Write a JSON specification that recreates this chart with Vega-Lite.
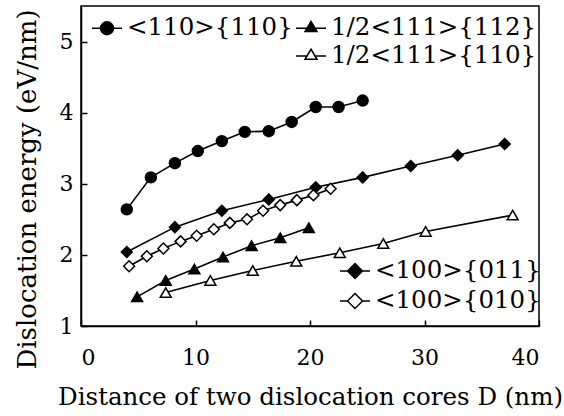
{
  "$schema": "https://vega.github.io/schema/vega-lite/v6.json",
  "width": 458,
  "height": 320,
  "autosize": {"type": "none"},
  "padding": {"left": 81, "top": 6, "right": 25, "bottom": 90},
  "background": "white",
  "config": {
    "view": {"stroke": "black", "strokeWidth": 1.5},
    "axis": {
      "grid": false,
      "domainColor": "black",
      "domainWidth": 1.5,
      "tickColor": "black",
      "tickWidth": 1.5,
      "tickSize": -6,
      "labelColor": "black",
      "labelFont": "DejaVu Serif",
      "labelFontSize": 22,
      "titleFont": "DejaVu Serif",
      "titleFontSize": 24.5,
      "titleFontWeight": "normal",
      "titleColor": "black"
    },
    "legend": {
      "labelFont": "DejaVu Serif",
      "labelFontSize": 24.5,
      "labelColor": "black",
      "labelLimit": 400,
      "symbolSize": 900,
      "symbolOpacity": 1,
      "symbolStrokeWidth": 1.5,
      "labelOffset": 4
    }
  },
  "data": {
    "values": [
      {"s": "<110>{110}", "x": 4.0, "y": 2.64},
      {"s": "<110>{110}", "x": 6.1, "y": 3.09},
      {"s": "<110>{110}", "x": 8.2, "y": 3.29},
      {"s": "<110>{110}", "x": 10.2, "y": 3.46},
      {"s": "<110>{110}", "x": 12.3, "y": 3.6},
      {"s": "<110>{110}", "x": 14.3, "y": 3.73},
      {"s": "<110>{110}", "x": 16.4, "y": 3.74},
      {"s": "<110>{110}", "x": 18.4, "y": 3.87},
      {"s": "<110>{110}", "x": 20.5, "y": 4.08},
      {"s": "<110>{110}", "x": 22.5, "y": 4.08},
      {"s": "<110>{110}", "x": 24.6, "y": 4.17},
      {"s": "1/2<111>{112}", "x": 4.9, "y": 1.41},
      {"s": "1/2<111>{112}", "x": 7.4, "y": 1.64},
      {"s": "1/2<111>{112}", "x": 9.9, "y": 1.8},
      {"s": "1/2<111>{112}", "x": 12.4, "y": 1.97},
      {"s": "1/2<111>{112}", "x": 14.9, "y": 2.13},
      {"s": "1/2<111>{112}", "x": 17.4, "y": 2.24},
      {"s": "1/2<111>{112}", "x": 19.9, "y": 2.38},
      {"s": "1/2<111>{110}", "x": 7.4, "y": 1.47},
      {"s": "1/2<111>{110}", "x": 11.3, "y": 1.64},
      {"s": "1/2<111>{110}", "x": 15.0, "y": 1.78},
      {"s": "1/2<111>{110}", "x": 18.8, "y": 1.91},
      {"s": "1/2<111>{110}", "x": 22.6, "y": 2.03},
      {"s": "1/2<111>{110}", "x": 26.4, "y": 2.16},
      {"s": "1/2<111>{110}", "x": 30.1, "y": 2.33},
      {"s": "1/2<111>{110}", "x": 37.7, "y": 2.56},
      {"s": "<100>{011}", "x": 4.0, "y": 2.04},
      {"s": "<100>{011}", "x": 8.2, "y": 2.39},
      {"s": "<100>{011}", "x": 12.3, "y": 2.62},
      {"s": "<100>{011}", "x": 16.4, "y": 2.78},
      {"s": "<100>{011}", "x": 20.5, "y": 2.95},
      {"s": "<100>{011}", "x": 24.6, "y": 3.09},
      {"s": "<100>{011}", "x": 28.8, "y": 3.25},
      {"s": "<100>{011}", "x": 32.9, "y": 3.4},
      {"s": "<100>{011}", "x": 37.0, "y": 3.56},
      {"s": "<100>{010}", "x": 4.2, "y": 1.84},
      {"s": "<100>{010}", "x": 5.75, "y": 1.98},
      {"s": "<100>{010}", "x": 7.2, "y": 2.09},
      {"s": "<100>{010}", "x": 8.7, "y": 2.19},
      {"s": "<100>{010}", "x": 10.1, "y": 2.27},
      {"s": "<100>{010}", "x": 11.6, "y": 2.36},
      {"s": "<100>{010}", "x": 13.0, "y": 2.45},
      {"s": "<100>{010}", "x": 14.5, "y": 2.5},
      {"s": "<100>{010}", "x": 15.9, "y": 2.62},
      {"s": "<100>{010}", "x": 17.4, "y": 2.7},
      {"s": "<100>{010}", "x": 18.85, "y": 2.77},
      {"s": "<100>{010}", "x": 20.3, "y": 2.84},
      {"s": "<100>{010}", "x": 21.8, "y": 2.93}
    ]
  },
  "encoding": {
    "x": {
      "field": "x", "type": "quantitative",
      "scale": {"domain": [0, 40], "nice": false, "zero": false},
      "axis": {
        "title": "Distance of two dislocation cores D (nm)",
        "values": [0, 10, 20, 30, 40],
        "labelFont": "DejaVu Serif",
        "labelFontSize": 22,
        "labelPadding": 27,
        "titleY": 78,
        "titleBaseline": "alphabetic"
      }
    },
    "y": {
      "field": "y", "type": "quantitative",
      "scale": {"domain": [1, 5.5], "nice": false, "zero": false},
      "axis": {
        "title": "Dislocation energy (eV/nm)",
        "titleFontSize": 26,
        "values": [1, 2, 3, 4, 5],
        "labelFont": "DejaVu Serif",
        "labelFontSize": 22,
        "labelPadding": 14,
        "titleX": -41,
        "titleY": 183
      }
    }
  },
  "layer": [
    {
      "mark": {"type": "line", "color": "black", "strokeWidth": 1.6},
      "encoding": {"detail": {"field": "s"}}
    },
    {
      "mark": {"type": "point", "filled": true, "stroke": "black", "strokeWidth": 1.5, "size": 120, "opacity": 1},
      "encoding": {
        "shape": {
          "field": "s", "type": "nominal",
          "scale": {
            "domain": ["<110>{110}", "1/2<111>{112}", "1/2<111>{110}", "<100>{011}", "<100>{010}"],
            "range": ["circle", "triangle-up", "triangle-up", "diamond", "diamond"]
          },
          "legend": null
        },
        "fill": {
          "condition": {"test": "datum.s === '1/2<111>{110}' || datum.s === '<100>{010}'", "value": "white"},
          "value": "black"
        }
      }
    },
    {
      "transform": [{"filter": {"field": "s", "oneOf": ["<110>{110}", "1/2<111>{112}", "1/2<111>{110}"]}}],
      "mark": {"type": "point", "filled": true, "stroke": "black", "strokeWidth": 1.5, "opacity": 0},
      "encoding": {
        "shape": {
          "field": "s", "type": "nominal",
          "scale": {
            "domain": ["<110>{110}", "1/2<111>{112}", " ", "1/2<111>{110}"],
            "range": [
              "M-1,0H1M0.43,0A0.43,0.43,0,1,1,-0.43,0A0.43,0.43,0,1,1,0.43,0Z",
              "M-1,0H1M0,-0.45L0.4,0.22L-0.4,0.22Z",
              "M0,0",
              "M-1,0H-0.27M0.27,0H1M0,-0.45L0.4,0.22L-0.4,0.22Z"
            ]
          },
          "legend": {
            "title": null,
            "orient": "none",
            "direction": "horizontal",
            "legendX": 10,
            "legendY": 6,
            "columns": 2,
            "columnPadding": 0,
            "rowPadding": -1
          }
        },
        "fill": {
          "field": "s", "type": "nominal",
          "scale": {
            "domain": ["<110>{110}", "1/2<111>{112}", " ", "1/2<111>{110}"],
            "range": ["black", "black", "white", "white"]
          },
          "legend": {
            "title": null,
            "orient": "none",
            "direction": "horizontal",
            "legendX": 10,
            "legendY": 6,
            "columns": 2,
            "columnPadding": 0,
            "rowPadding": -1
          }
        }
      }
    },
    {
      "transform": [{"filter": {"field": "s", "oneOf": ["<100>{011}", "<100>{010}"]}}],
      "mark": {"type": "point", "filled": true, "stroke": "black", "strokeWidth": 1.5, "opacity": 0},
      "encoding": {
        "shape": {
          "field": "s", "type": "nominal",
          "scale": {
            "domain": ["<100>{011}", "<100>{010}"],
            "range": [
              "M-1,0H1M0,-0.5L0.5,0L0,0.5L-0.5,0Z",
              "M-1,0H-0.5M0.5,0H1M0,-0.5L0.5,0L0,0.5L-0.5,0Z"
            ]
          },
          "legend": {
            "title": null,
            "orient": "none",
            "legendX": 258,
            "legendY": 249,
            "rowPadding": 2
          }
        },
        "fill": {
          "field": "s", "type": "nominal",
          "scale": {
            "domain": ["<100>{011}", "<100>{010}"],
            "range": ["black", "white"]
          },
          "legend": {
            "title": null,
            "orient": "none",
            "legendX": 258,
            "legendY": 249,
            "rowPadding": 2
          }
        }
      }
    }
  ],
  "resolve": {
    "scale": {"shape": "independent", "fill": "independent"},
    "legend": {"shape": "independent", "fill": "independent"}
  }
}
